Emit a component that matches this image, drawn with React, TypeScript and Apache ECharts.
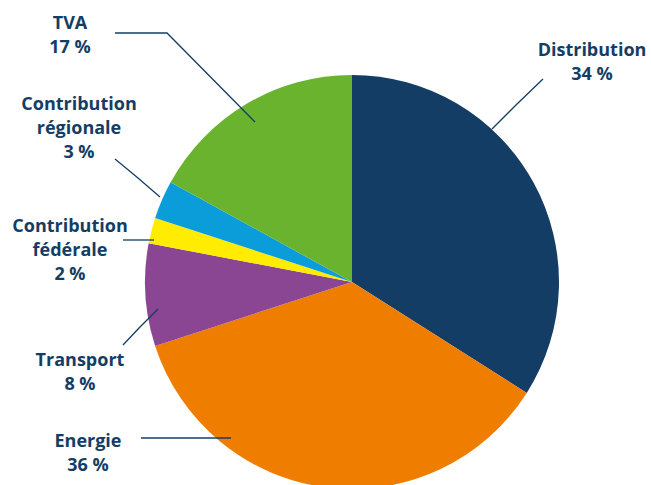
import React, { useEffect, useRef } from "react";
import * as echarts from "echarts";

const categories = [
  "Distribution",
  "Energie",
  "Transport",
  "Contribution\nfédérale",
  "Contribution\nrégionale",
  "TVA",
];
const values = [34, 36, 8, 2, 3, 17];
const colors = ["#143d66", "#ef7d00", "#8a4593", "#ffec00", "#0b9dd9", "#6ab32f"];

// label anchor positions and leader line points (layout only)
const labelPos: [number, number][] = [
  [592, 61],
  [88, 452],
  [80, 371],
  [70, 249],
  [79, 127],
  [70, 34],
];
const linePts: [number, number][][] = [
  [[543, 79], [517, 104], [492, 129]],
  [[141, 438], [186, 438], [231, 438]],
  [[123, 345], [140, 327], [158, 309]],
  [[123, 240], [138, 240], [154, 240]],
  [[115, 159], [138, 178], [160, 197]],
  [[115, 33], [167, 33], [255, 122]],
];

export default function App() {
  const ref = useRef<HTMLDivElement>(null);
  useEffect(() => {
    if (!ref.current) return;
    const chart = echarts.init(ref.current, undefined, { renderer: "svg" });
    const data = categories.map((n, i) => ({
      name: n,
      value: values[i],
      itemStyle: { color: colors[i] },
    }));
    const labelData = categories.map((n, i) => ({
      name: n,
      value: values[i],
      itemStyle: { color: "rgba(0,0,0,0)" },
    }));
    chart.setOption({
      animation: false,
      backgroundColor: "#ffffff",
      series: [
        {
          type: "pie",
          z: 2,
          center: [352, 282],
          radius: 207,
          startAngle: 90,
          clockwise: true,
          data,
          itemStyle: { borderWidth: 0 },
          emphasis: { disabled: true },
          label: { show: false },
          labelLine: { show: false },
        },
        {
          type: "pie",
          z: 5,
          center: [352, 282],
          radius: 207,
          startAngle: 90,
          clockwise: true,
          avoidLabelOverlap: false,
          silent: true,
          data: labelData,
          itemStyle: { borderWidth: 0 },
          emphasis: { disabled: true },
          label: {
            show: true,
            formatter: "{b}\n{c} %",
            color: "#143d66",
            fontFamily: "Open Sans",
            fontWeight: "bold",
            fontSize: 18,
            lineHeight: 24,
            align: "center",
          },
          labelLine: {
            show: true,
            lineStyle: { color: "#143d66", width: 1.3 },
          },
          labelLayout: (p: any) => {
            const i = p.dataIndex;
            return {
              x: labelPos[i][0],
              y: labelPos[i][1],
              align: "center",
              verticalAlign: "middle",
              labelLinePoints: linePts[i],
            };
          },
        },
      ],
    });
    return () => chart.dispose();
  }, []);
  return (
    <div
      ref={ref}
      style={{ position: "absolute", left: 0, top: 0, width: 651, height: 485 }}
    />
  );
}
